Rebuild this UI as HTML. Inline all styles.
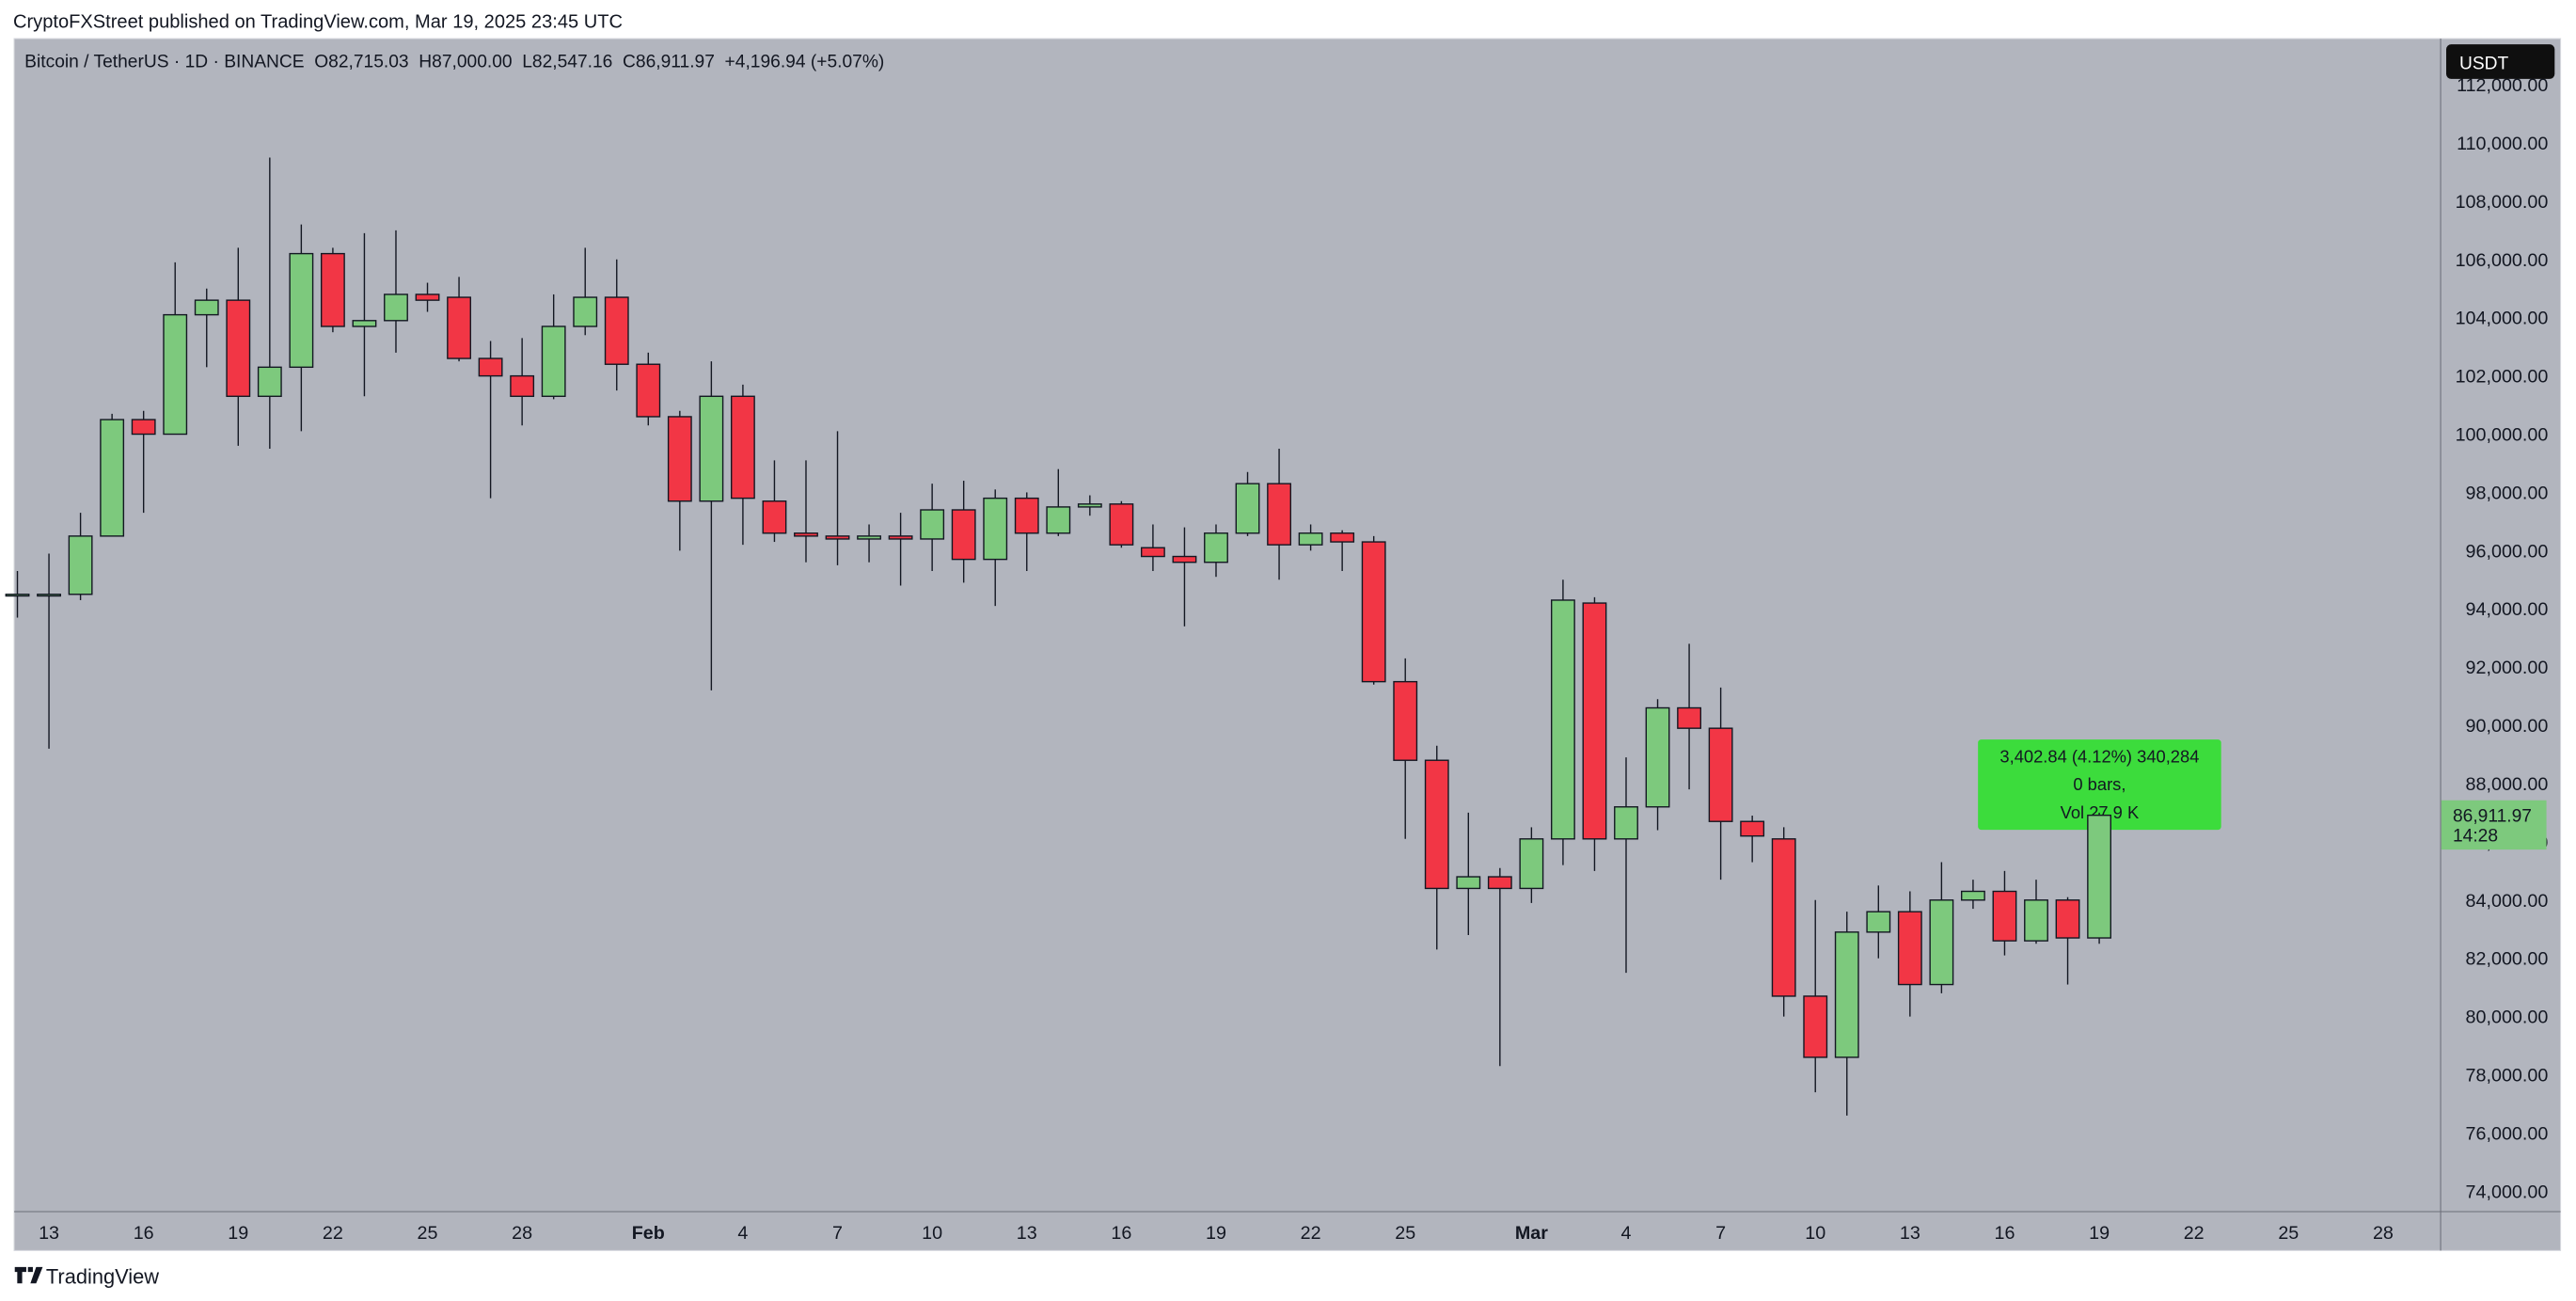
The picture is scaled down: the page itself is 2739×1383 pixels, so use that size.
<!DOCTYPE html>
<html><head><meta charset="utf-8"><style>
html,body{margin:0;padding:0;background:#fff;}
svg{display:block;font-family:"Liberation Sans",sans-serif;}
</style></head><body>
<svg id="chart" width="2739" height="1383" viewBox="0 0 1568 791.7" preserveAspectRatio="none" xmlns="http://www.w3.org/2000/svg">
<rect x="0" y="0" width="1568" height="791.7" fill="#ffffff"/>
<text x="8" y="17" font-size="11.5" fill="#131722">CryptoFXStreet published on TradingView.com, Mar 19, 2025 23:45 UTC</text>
<rect x="8.6" y="23.5" width="1550" height="737.5" fill="#b2b5be" stroke="#d6d8de" stroke-width="0.6"/>
<line x1="1485.6" y1="23.5" x2="1485.6" y2="761" stroke="#6b6e78" stroke-width="0.6"/>
<line x1="8.6" y1="737.3" x2="1558.6" y2="737.3" stroke="#6b6e78" stroke-width="0.6"/>
<text x="15" y="41" font-size="11" fill="#131722" xml:space="preserve">Bitcoin / TetherUS · 1D · BINANCE  O82,715.03  H87,000.00  L82,547.16  C86,911.97  +4,196.94 (+5.07%)</text>
<g>
<rect x="1204" y="450" width="148" height="55" rx="2" fill="#3cdc3c"/>
<text x="1278" y="464" font-size="10.5" fill="#131722" text-anchor="middle">3,402.84 (4.12%) 340,284</text>
<text x="1278" y="481" font-size="10.5" fill="#131722" text-anchor="middle">0 bars,</text>
<text x="1278" y="498" font-size="10.5" fill="#131722" text-anchor="middle">Vol 27.9 K</text>
</g>
<g id="candles"></g>
<g id="yaxis"></g>
<g id="xaxis"></g>
<rect x="1489" y="27" width="66" height="21" rx="3" fill="#0f0f0f"/>
<text x="1497" y="42" font-size="11" fill="#fff">USDT</text>
<g>
<rect x="1486" y="487" width="64" height="30" fill="#7dc97d"/>
<text id="lastPrice" x="1493" y="500" font-size="11" fill="#131722">86,911.97</text>
<text x="1493" y="512" font-size="11" fill="#131722">14:28</text>
</g>
<g>
<path d="M9 771h7v3h-2.5v7h-3v-7H9z M17 771h3v3h-3z M22 771h4l-4 10h-3.5z" fill="#131722"/>
<text x="28" y="781" font-size="12.5" fill="#131722">TradingView</text>
</g>
</svg>
<script>
const dates = ["Jan 12","Jan 13","Jan 14","Jan 15","Jan 16","Jan 17","Jan 18","Jan 19","Jan 20","Jan 21","Jan 22","Jan 23","Jan 24","Jan 25","Jan 26","Jan 27","Jan 28","Jan 29","Jan 30","Jan 31","Feb 1","Feb 2","Feb 3","Feb 4","Feb 5","Feb 6","Feb 7","Feb 8","Feb 9","Feb 10","Feb 11","Feb 12","Feb 13","Feb 14","Feb 15","Feb 16","Feb 17","Feb 18","Feb 19","Feb 20","Feb 21","Feb 22","Feb 23","Feb 24","Feb 25","Feb 26","Feb 27","Feb 28","Mar 1","Mar 2","Mar 3","Mar 4","Mar 5","Mar 6","Mar 7","Mar 8","Mar 9","Mar 10","Mar 11","Mar 12","Mar 13","Mar 14","Mar 15","Mar 16","Mar 17","Mar 18","Mar 19"];
const opens = [94500,94500,94500,96500,100500,100000,104100,104600,101300,102300,106200,103700,103900,104800,104700,102600,102000,101300,103700,104700,102400,100600,97700,101300,97700,96600,96500,96400,96500,96400,97400,95700,97800,96600,97500,97600,96100,95800,95600,96600,98300,96200,96600,96300,91500,88800,84400,84800,84400,86100,94200,86100,87200,90600,89900,86700,86100,80700,78600,82900,83600,81100,84000,84300,82600,84000,82700];
const highs = [95300,95900,97300,100700,100800,105900,105000,106400,109500,107200,106400,106900,107000,105200,105400,103200,103300,104800,106400,106000,102800,100800,102500,101700,99100,99100,100100,96900,97300,98300,98400,98100,98000,98800,97900,97700,96900,96800,96900,98700,99500,96900,96700,96500,92300,89300,87000,85100,86500,95000,94400,88900,90900,92800,91300,86900,86500,84000,83600,84500,84300,85300,84700,85000,84700,84100,87000];
const lows = [93700,89200,94300,96500,97300,100000,102300,99600,99500,100100,103500,101300,102800,104200,102500,97800,100300,101200,103400,101500,100300,96000,91200,96200,96300,95600,95500,95600,94800,95300,94900,94100,95300,96500,97200,96100,95300,93400,95100,96500,95000,96000,95300,91400,86100,82300,82800,78300,83900,85200,85000,81500,86400,87800,84700,85300,80000,77400,76600,82000,80000,80800,83700,82100,82500,81100,82500];
const closes = [94500,94500,96500,100500,100000,104100,104600,101300,102300,106200,103700,103900,104800,104600,102600,102000,101300,103700,104700,102400,100600,97700,101300,97800,96600,96500,96400,96500,96400,97400,95700,97800,96600,97500,97600,96200,95800,95600,96600,98300,96200,96600,96300,91500,88800,84400,84800,84400,86100,94300,86100,87200,90600,89900,86700,86200,80700,78600,82900,83600,81100,84000,84300,82600,84000,82700,86912];
const priceTicks = [112000,110000,108000,106000,104000,102000,100000,98000,96000,94000,92000,90000,88000,86000,84000,82000,80000,78000,76000,74000];
const timeLabels = ["13","16","19","22","25","28","Feb","4","7","10","13","16","19","22","25","Mar","4","7","10","13","16","19","22","25","28"];
const timeLabelDayIndex = [1,4,7,10,13,16,20,23,26,29,32,35,38,41,44,48,51,54,57,60,63,66,69,72,75];

const NS="http://www.w3.org/2000/svg";
function yScale(p){return 87+(110000-p)/1000*17.72;}
function xScale(i){return 10.6+i*19.2;}
function mk(tag,attrs,parent){const e=document.createElementNS(NS,tag);for(const k in attrs)e.setAttribute(k,attrs[k]);parent.appendChild(e);return e;}
const cg=document.getElementById('candles');
for(let i=0;i<dates.length;i++){
  const x=xScale(i),o=opens[i],c=closes[i];
  const up=c>=o;
  const w=mk('line',{x1:x,x2:x,y1:yScale(highs[i]),y2:yScale(lows[i]),stroke:'#131722','stroke-width':0.8},cg);
  
  
  const top=yScale(Math.max(o,c)),bot=yScale(Math.min(o,c));
  const r=mk('rect',{x:x-7,y:top,width:14,height:Math.max(bot-top,1),fill:up?'#7dc97d':'#f23645',stroke:'#131722','stroke-width':0.8},cg);
  
  
}
const yg=document.getElementById('yaxis');
priceTicks.forEach(p=>{
  const t=mk('text',{x:1551,y:yScale(p)+4,'font-size':11.3,fill:'#131722','text-anchor':'end'},yg);
  t.textContent=p.toLocaleString('en-US',{minimumFractionDigits:2});
  
  
});
const xg=document.getElementById('xaxis');
timeLabels.forEach((l,k)=>{
  const t=mk('text',{x:xScale(timeLabelDayIndex[k]),y:754,'font-size':11.3,fill:'#131722','text-anchor':'middle','font-weight':(l==='Feb'||l==='Mar')?'bold':'normal'},xg);
  t.textContent=l;
  
  
});
</script>
</body></html>
